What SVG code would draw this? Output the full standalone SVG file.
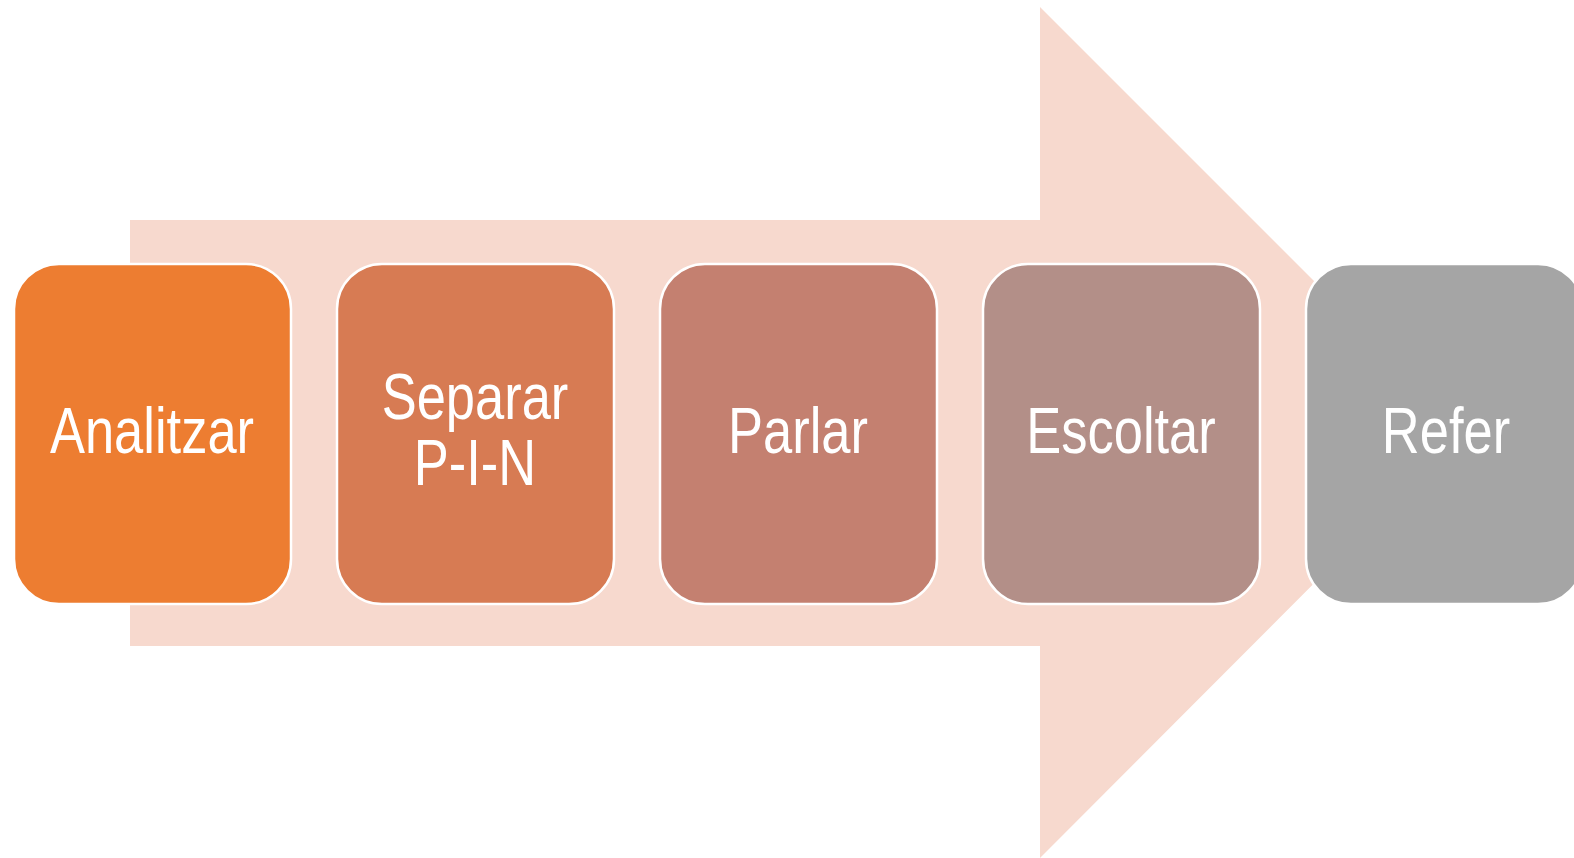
<svg xmlns="http://www.w3.org/2000/svg" width="1574" height="858" viewBox="0 0 1574 858">
  <style>
    .box { stroke: #FFFFFF; stroke-width: 2.5; }
    .lbl { fill: #FFFFFF; font-family: "Liberation Sans", Arial, sans-serif; font-size: 64px; text-anchor: middle; }
  </style>
  <rect width="1574" height="858" fill="#FFFFFF"/>
  <g id="connectors">
    <polygon id="big-arrow" points="130,220 1040,220 1040,7 1465,432 1040,858 1040,646 130,646" fill="#F7D9CE"/>
  </g>
  <g id="node-analitzar">
    <rect class="box" x="14" y="264" width="277" height="340" rx="45" ry="45" fill="#ED7D31"/>
    <text class="lbl" transform="translate(152,453) scale(0.82,1)">Analitzar</text>
  </g>
  <g id="node-separar">
    <rect class="box" x="337" y="264" width="277" height="340" rx="45" ry="45" fill="#D77B53"/>
    <text class="lbl" transform="translate(475,419) scale(0.82,1)">Separar</text>
    <text class="lbl" transform="translate(475,485) scale(0.82,1)">P-I-N</text>
  </g>
  <g id="node-parlar">
    <rect class="box" x="660" y="264" width="277" height="340" rx="45" ry="45" fill="#C48070"/>
    <text class="lbl" transform="translate(798,453) scale(0.82,1)">Parlar</text>
  </g>
  <g id="node-escoltar">
    <rect class="box" x="983" y="264" width="277" height="340" rx="45" ry="45" fill="#B38F88"/>
    <text class="lbl" transform="translate(1121,453) scale(0.82,1)">Escoltar</text>
  </g>
  <g id="node-refer">
    <rect class="box" x="1306" y="264" width="277" height="340" rx="45" ry="45" fill="#A5A5A5"/>
    <text class="lbl" transform="translate(1446,453) scale(0.82,1)">Refer</text>
  </g>
</svg>
